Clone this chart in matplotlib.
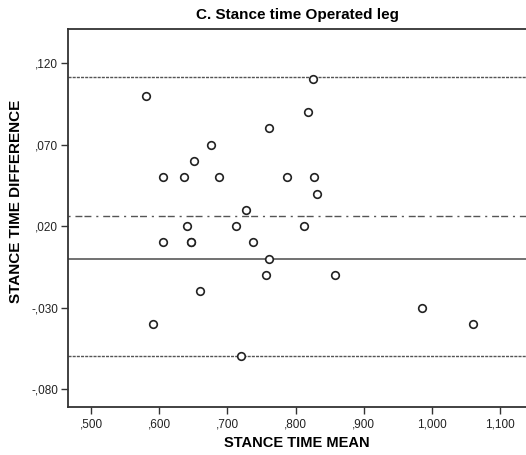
import matplotlib.pyplot as plt
from matplotlib.ticker import FuncFormatter

plt.rcParams["font.family"] = ["Liberation Sans", "DejaVu Sans"]

# Bland-Altman data: mean of the two measurements vs their difference
stance_mean = [
    0.580, 0.825, 0.818, 0.761, 0.676, 0.651, 0.606, 0.636, 0.687, 0.787,
    0.827, 0.832, 0.727, 0.641, 0.712, 0.812, 0.606, 0.646, 0.646, 0.737,
    0.761, 0.757, 0.858, 0.660, 0.590, 0.720, 0.985, 1.060,
]
stance_diff = [
    0.100, 0.110, 0.090, 0.080, 0.070, 0.060, 0.050, 0.050, 0.050, 0.050,
    0.050, 0.040, 0.030, 0.020, 0.020, 0.020, 0.010, 0.010, 0.010, 0.010,
    0.000, -0.010, -0.010, -0.020, -0.040, -0.060, -0.030, -0.040,
]
mean_diff = 0.026
upper_loa = 0.1114
lower_loa = -0.0594
x_ticks = [0.5, 0.6, 0.7, 0.8, 0.9, 1.0, 1.1]
y_ticks = [-0.08, -0.03, 0.02, 0.07, 0.12]


def spss_fmt(v, _pos=None):
    s = f"{v:,.3f}".replace(".", "#").replace(",", ".").replace("#", ",")
    if s.startswith("0,"):
        s = s[1:]
    elif s.startswith("-0,"):
        s = "-" + s[2:]
    return s


fig = plt.figure(figsize=(5.26, 4.55), dpi=100)
ax = fig.add_axes([0.1293, 0.1055, 0.8707, 0.8308])

line_col = "#555555"
ax.axhline(upper_loa, color=line_col, lw=1.0, ls=(0, (2.2, 0.8)))
ax.axhline(lower_loa, color=line_col, lw=1.0, ls=(0, (2.2, 0.8)))
ax.axhline(mean_diff, color=line_col, lw=1.0, ls=(0, (1.5, 3.5, 5, 1.5, 5, 3.5)))
ax.axhline(0, color="#666666", lw=1.3)

ax.scatter(stance_mean, stance_diff, s=30, facecolors="white", edgecolors="#222222",
           linewidths=1.2, zorder=3)

ax.set_xlim(0.466, 1.138)
ax.set_ylim(-0.091, 0.141)
ax.set_xticks(x_ticks)
ax.set_yticks(y_ticks)
ax.xaxis.set_major_formatter(FuncFormatter(spss_fmt))
ax.yaxis.set_major_formatter(FuncFormatter(spss_fmt))
ax.tick_params(direction="out", length=5, width=1, color="#333333",
               labelsize=8.5, labelcolor="#222222", pad=2)
ax.tick_params(axis="x", pad=3)

for side in ["left", "bottom", "top"]:
    ax.spines[side].set_color("#333333")
    ax.spines[side].set_linewidth(1.3)
ax.spines["right"].set_visible(False)

ax.set_title("C. Stance time Operated leg", fontsize=11, fontweight="bold", pad=7)
ax.set_xlabel("STANCE TIME MEAN", fontsize=10.5, fontweight="bold", labelpad=4)
ax.set_ylabel("STANCE TIME DIFFERENCE", fontsize=11, fontweight="bold")
ax.yaxis.set_label_coords(-0.098, 0.545)

fig.savefig("out.png", dpi=100)
